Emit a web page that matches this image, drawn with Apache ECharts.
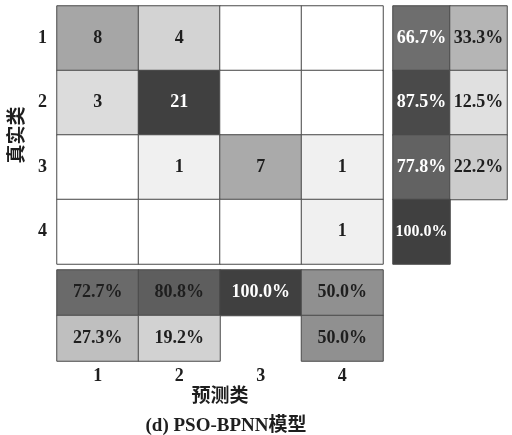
<!DOCTYPE html>
<html><head><meta charset="utf-8">
<script src="https://cdn.jsdelivr.net/npm/echarts@6/dist/echarts.min.js"></script>
<style>html,body{margin:0;padding:0;background:#fff}#c{width:512px;height:435px}</style>
</head><body><div id="c"></div>
<script>
// ---- data ----
const classLabels = ['1', '2', '3', '4'];
const rowSummaryLabels = ['correct', 'wrong'];
const colSummaryLabels = ['correct', 'wrong'];
// confusion counts: rows = true class, cols = predicted class (0 = empty)
const counts = [
  [8, 4, 0, 0],
  [3, 21, 0, 0],
  [0, 1, 7, 1],
  [0, 0, 0, 1]
];
// per true class: [correct %, wrong %]
const rowPct = [
  [66.7, 33.3],
  [87.5, 12.5],
  [77.8, 22.2],
  [100.0, null]
];
// per predicted class: first row correct %, second row wrong %
const colPctCorrect = [72.7, 80.8, 100.0, 50.0];
const colPctWrong = [27.3, 19.2, null, 50.0];

// ---- styles (cell fill colours, kept apart from data) ----
const countColors = [
  ['#a6a6a6', '#d3d3d3', '#ffffff', '#ffffff'],
  ['#dcdcdc', '#404040', '#ffffff', '#ffffff'],
  ['#ffffff', '#f0f0f0', '#aaaaaa', '#f0f0f0'],
  ['#ffffff', '#ffffff', '#ffffff', '#f0f0f0']
];
const rowPctColors = [
  ['#6e6e6e', '#b5b5b5'],
  ['#4a4a4a', '#e0e0e0'],
  ['#626262', '#cccccc'],
  ['#404040', '#ffffff']
];
const colCorrectColors = ['#6a6a6a', '#5e5e5e', '#404040', '#909090'];
const colWrongColors = ['#bfbfbf', '#d2d2d2', '#ffffff', '#909090'];
const countTextWhite = [[0,0,0,0],[0,1,0,0],[0,0,0,0],[0,0,0,0]];
const rowTextWhite = [[1,0],[1,0],[1,0],[1,0]];
const colCorrectTextWhite = [0, 0, 1, 0];

const serif = '"Liberation Serif", "Times New Roman", serif';
const cjk = '"Liberation Serif", "Noto Sans CJK SC", serif';

function cell(x, y, v, color, white, fmt, fontSize) {
  return {
    value: [x, y, v == null ? '-' : v],
    itemStyle: { color: color },
    label: {
      show: v != null && v !== 0,
      formatter: fmt,
      fontSize: fontSize || 18,
      color: white ? '#ffffff' : '#1e1e1e'
    }
  };
}

const pctFmt = p => p.value[2].toFixed(1) + '%';
const mainData = [];
counts.forEach((row, r) => row.forEach((v, c) => {
  mainData.push(cell(c, r, v, countColors[r][c], countTextWhite[r][c], p => String(p.value[2])));
}));
const rightData = [];
rowPct.forEach((row, r) => row.forEach((v, c) => {
  rightData.push(cell(c, r, v, rowPctColors[r][c], rowTextWhite[r][c], pctFmt, v === 100 ? 16 : 18));
}));
const bottomData = [];
colPctCorrect.forEach((v, c) => bottomData.push(cell(c, 0, v, colCorrectColors[c], colCorrectTextWhite[c], pctFmt)));
colPctWrong.forEach((v, c) => bottomData.push(cell(c, 1, v, colWrongColors[c], 0, pctFmt)));

const hidden = { show: false };
const labelFont = { fontFamily: serif, fontWeight: 'bold', fontSize: 18, color: '#1e1e1e' };
const cellLabel = { fontFamily: serif, fontWeight: 'bold', fontSize: 18 };
const border = { borderColor: '#4a4a4a', borderWidth: 1 };

const option = {
  animation: false,
  backgroundColor: '#ffffff',
  title: {
    text: '(d) PSO-BPNN模型',
    left: 221, top: 412, textAlign: 'center',
    textStyle: { fontFamily: cjk, fontWeight: 'bold', fontSize: 19, color: '#1e1e1e' }
  },
  grid: [
    { left: 57, top: 6, width: 326, height: 258 },
    { left: 393, top: 6, width: 114, height: 258 },
    { left: 57, top: 270, width: 326, height: 91 }
  ],
  xAxis: [
    { gridIndex: 0, type: 'category', data: classLabels, axisLine: hidden, axisTick: hidden, axisLabel: hidden, splitLine: hidden },
    { gridIndex: 1, type: 'category', data: rowSummaryLabels, axisLine: hidden, axisTick: hidden, axisLabel: hidden },
    { gridIndex: 2, type: 'category', data: classLabels, axisLine: hidden, axisTick: hidden,
      axisLabel: Object.assign({ margin: 6 }, labelFont),
      name: '预测类', nameLocation: 'middle', nameGap: 27,
      nameTextStyle: { fontFamily: cjk, fontWeight: 'bold', fontSize: 19, color: '#1e1e1e' } }
  ],
  yAxis: [
    { gridIndex: 0, type: 'category', data: classLabels, inverse: true, axisLine: hidden, axisTick: hidden,
      axisLabel: Object.assign({ margin: 10 }, labelFont),
      name: '真实类', nameLocation: 'middle', nameGap: 26, nameRotate: 90,
      nameTextStyle: { fontFamily: cjk, fontWeight: 'bold', fontSize: 19, color: '#1e1e1e' } },
    { gridIndex: 1, type: 'category', data: classLabels, inverse: true, axisLine: hidden, axisTick: hidden, axisLabel: hidden },
    { gridIndex: 2, type: 'category', data: colSummaryLabels, inverse: true, axisLine: hidden, axisTick: hidden, axisLabel: hidden }
  ],
  series: [
    { type: 'heatmap', xAxisIndex: 0, yAxisIndex: 0, data: mainData, itemStyle: border, label: Object.assign({ show: true }, cellLabel) },
    { type: 'heatmap', xAxisIndex: 1, yAxisIndex: 1, data: rightData, itemStyle: border, label: Object.assign({ show: true }, cellLabel) },
    { type: 'heatmap', xAxisIndex: 2, yAxisIndex: 2, data: bottomData, itemStyle: border, label: Object.assign({ show: true }, cellLabel) }
  ]
};
const chart = echarts.init(document.getElementById('c'), null, { renderer: 'canvas' });
chart.setOption(option);
</script></body></html>
